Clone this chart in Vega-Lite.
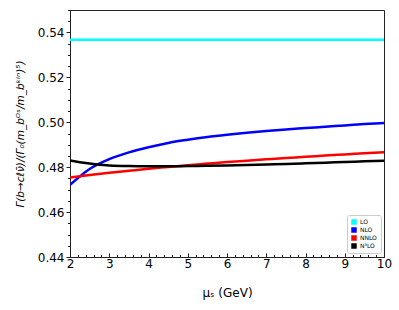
{
  "$schema": "https://vega.github.io/schema/vega-lite/v6.json",
  "width": 314,
  "height": 247,
  "autosize": {"type": "none"},
  "padding": {"left": 70, "top": 10, "right": 15, "bottom": 53},
  "background": "white",
  "config": {
    "font": "DejaVu Sans",
    "view": {"stroke": "#222", "strokeWidth": 1},
    "axis": {"grid": false, "domainColor": "#222", "tickColor": "#222", "labelColor": "#000", "titleColor": "#000", "labelFont": "DejaVu Sans", "titleFont": "DejaVu Sans"}
  },
  "data": {
    "values": [
      {"mu": 2.0, "v": 0.5367, "s": "LO"},
      {"mu": 10.0, "v": 0.5367, "s": "LO"},
      {"mu": 2.0, "v": 0.4721, "s": "NLO"},
      {"mu": 2.5, "v": 0.4792, "s": "NLO"},
      {"mu": 3.0, "v": 0.4836, "s": "NLO"},
      {"mu": 3.5, "v": 0.4866, "s": "NLO"},
      {"mu": 4.0, "v": 0.4889, "s": "NLO"},
      {"mu": 4.5, "v": 0.4908, "s": "NLO"},
      {"mu": 5.0, "v": 0.4922, "s": "NLO"},
      {"mu": 5.5, "v": 0.4934, "s": "NLO"},
      {"mu": 6.0, "v": 0.4944, "s": "NLO"},
      {"mu": 6.5, "v": 0.4953, "s": "NLO"},
      {"mu": 7.0, "v": 0.4961, "s": "NLO"},
      {"mu": 7.5, "v": 0.4968, "s": "NLO"},
      {"mu": 8.0, "v": 0.4974, "s": "NLO"},
      {"mu": 8.5, "v": 0.4980, "s": "NLO"},
      {"mu": 9.0, "v": 0.4986, "s": "NLO"},
      {"mu": 9.5, "v": 0.4992, "s": "NLO"},
      {"mu": 10.0, "v": 0.4997, "s": "NLO"},
      {"mu": 2.0, "v": 0.4754, "s": "NNLO"},
      {"mu": 2.5, "v": 0.4765, "s": "NNLO"},
      {"mu": 3.0, "v": 0.4775, "s": "NNLO"},
      {"mu": 3.5, "v": 0.4784, "s": "NNLO"},
      {"mu": 4.0, "v": 0.4793, "s": "NNLO"},
      {"mu": 4.5, "v": 0.4801, "s": "NNLO"},
      {"mu": 5.0, "v": 0.4809, "s": "NNLO"},
      {"mu": 5.5, "v": 0.4816, "s": "NNLO"},
      {"mu": 6.0, "v": 0.4823, "s": "NNLO"},
      {"mu": 6.5, "v": 0.4829, "s": "NNLO"},
      {"mu": 7.0, "v": 0.4835, "s": "NNLO"},
      {"mu": 7.5, "v": 0.4841, "s": "NNLO"},
      {"mu": 8.0, "v": 0.4846, "s": "NNLO"},
      {"mu": 8.5, "v": 0.4852, "s": "NNLO"},
      {"mu": 9.0, "v": 0.4857, "s": "NNLO"},
      {"mu": 9.5, "v": 0.4862, "s": "NNLO"},
      {"mu": 10.0, "v": 0.4867, "s": "NNLO"},
      {"mu": 2.0, "v": 0.4830, "s": "N³LO"},
      {"mu": 2.25, "v": 0.4822, "s": "N³LO"},
      {"mu": 2.5, "v": 0.4816, "s": "N³LO"},
      {"mu": 2.75, "v": 0.4811, "s": "N³LO"},
      {"mu": 3.0, "v": 0.4808, "s": "N³LO"},
      {"mu": 3.5, "v": 0.4805, "s": "N³LO"},
      {"mu": 4.0, "v": 0.4804, "s": "N³LO"},
      {"mu": 4.5, "v": 0.4804, "s": "N³LO"},
      {"mu": 5.0, "v": 0.4805, "s": "N³LO"},
      {"mu": 5.5, "v": 0.4806, "s": "N³LO"},
      {"mu": 6.0, "v": 0.4808, "s": "N³LO"},
      {"mu": 6.5, "v": 0.4810, "s": "N³LO"},
      {"mu": 7.0, "v": 0.4812, "s": "N³LO"},
      {"mu": 7.5, "v": 0.4814, "s": "N³LO"},
      {"mu": 8.0, "v": 0.4817, "s": "N³LO"},
      {"mu": 8.5, "v": 0.4820, "s": "N³LO"},
      {"mu": 9.0, "v": 0.4823, "s": "N³LO"},
      {"mu": 9.5, "v": 0.4826, "s": "N³LO"},
      {"mu": 10.0, "v": 0.4829, "s": "N³LO"}
    ]
  },
  "mark": {"type": "line", "strokeWidth": 2.5, "interpolate": "monotone", "clip": true},
  "encoding": {
    "x": {
      "field": "mu",
      "type": "quantitative",
      "scale": {"domain": [2, 10], "nice": false, "zero": false},
      "axis": {
        "title": "μₛ (GeV)",
        "titleFontSize": 12,
        "titleFontWeight": "normal",
        "titlePadding": 17,
        "labelFontSize": 12,
        "labelFlush": false,
        "labelOverlap": false,
        "labelPadding": 5,
        "values": [2, 2.2, 2.4, 2.6, 2.8, 3, 3.2, 3.4, 3.6, 3.8, 4, 4.2, 4.4, 4.6, 4.8, 5, 5.2, 5.4, 5.6, 5.8, 6, 6.2, 6.4, 6.6, 6.8, 7, 7.2, 7.4, 7.6, 7.8, 8, 8.2, 8.4, 8.6, 8.8, 9, 9.2, 9.4, 9.6, 9.8, 10],
        "labelExpr": "abs(datum.value - round(datum.value)) < 0.001 ? format(datum.value, 'd') : ''",
        "tickSize": {"condition": {"test": "abs(datum.value - round(datum.value)) < 0.001", "value": -4}, "value": -2.5}
      }
    },
    "y": {
      "field": "v",
      "type": "quantitative",
      "scale": {"domain": [0.44, 0.55], "nice": false, "zero": false},
      "axis": {
        "title": "Γ(b→cℓν̄)/(Γ₀(m_bᴼˢ/m_bᵏⁱⁿ)⁵)",
        "titleFontSize": 10.5,
        "titleFontWeight": "normal",
        "titleFontStyle": "italic",
        "titlePadding": 12,
        "labelFontSize": 12,
        "labelOverlap": false,
        "labelPadding": 2,
        "values": [0.44, 0.445, 0.45, 0.455, 0.46, 0.465, 0.47, 0.475, 0.48, 0.485, 0.49, 0.495, 0.5, 0.505, 0.51, 0.515, 0.52, 0.525, 0.53, 0.535, 0.54, 0.545, 0.55],
        "labelExpr": "abs(datum.value * 50 - round(datum.value * 50)) < 0.001 ? format(datum.value, '.2f') : ''",
        "tickSize": {"condition": {"test": "abs(datum.value * 50 - round(datum.value * 50)) < 0.001", "value": 4}, "value": 2.5}
      }
    },
    "color": {
      "field": "s",
      "type": "nominal",
      "scale": {"domain": ["LO", "NLO", "NNLO", "N³LO"], "range": ["#00ffff", "#0000ff", "#ff0000", "#000000"]},
      "legend": {
        "title": null,
        "orient": "none",
        "legendX": 277,
        "legendY": 205,
        "symbolType": "square",
        "symbolSize": 30,
        "symbolStrokeWidth": 0,
        "labelFontSize": 6,
        "labelOffset": 3,
        "rowPadding": 2,
        "padding": 4,
        "strokeColor": "#cccccc",
        "fillColor": "white",
        "cornerRadius": 2,
        "encode": {"symbols": {"update": {"fill": {"scale": "color", "field": "value"}, "fillOpacity": {"value": 1}}}}
      }
    }
  }
}
